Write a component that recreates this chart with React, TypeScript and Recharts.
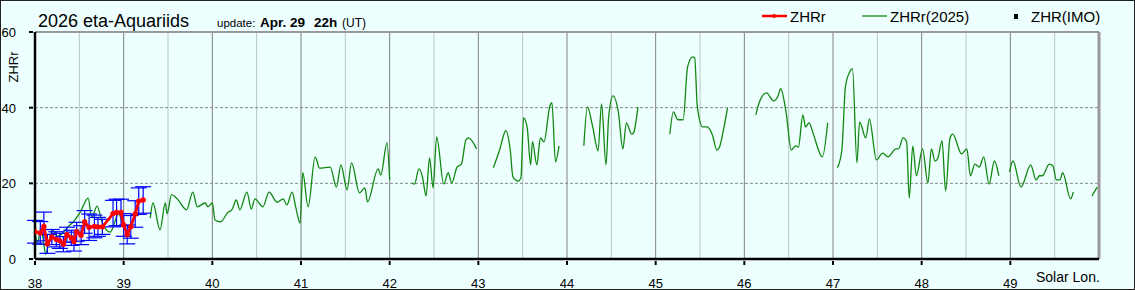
import React from 'react';
import { ComposedChart, Line, XAxis, YAxis, ReferenceLine, ErrorBar } from 'recharts';

const BG = '#eeffff';
const FONT = '"Liberation Sans", Arial, sans-serif';

// ZHRr(2025), null = no data (gap)
const greenLon = [
  38.0, 38.03, 38.06, 38.09, 38.12, 38.16, 38.2, 38.25, 38.32, 38.37, 38.42, 38.51, 38.6, 38.64, 38.7, 38.76, 38.85, 38.9, 38.94, 38.99, 39.15,
  39.3, 39.33, 39.41, 39.47, 39.49, 39.54, 39.6, 39.71, 39.78, 39.83, 39.92, 39.95, 40.0, 40.03, 40.09, 40.18, 40.22, 40.27, 40.31, 40.39,
  40.44, 40.48, 40.57, 40.64, 40.73, 40.8, 40.84, 40.9, 40.94, 40.99, 41.02, 41.08, 41.16, 41.21, 41.33, 41.4, 41.45, 41.52, 41.57, 41.66,
  41.72, 41.75, 41.87, 41.9, 41.97, 42.0, 42.12,
  42.25, 42.28, 42.33, 42.37, 42.41, 42.45, 42.49, 42.53, 42.61, 42.66, 42.7, 42.76, 42.81, 42.86, 42.89, 42.98, 43.08,
  43.17, 43.24, 43.31, 43.36, 43.39, 43.45, 43.48, 43.51, 43.55, 43.59, 43.61, 43.66, 43.7, 43.74, 43.81, 43.83, 43.87, 43.91, 44.05,
  44.19, 44.23, 44.29, 44.35, 44.39, 44.44, 44.47, 44.52, 44.58, 44.63, 44.67, 44.73, 44.75, 44.8, 45.0,
  45.16, 45.2, 45.25, 45.31, 45.36, 45.42, 45.44, 45.47, 45.53, 45.58, 45.64, 45.69, 45.72, 45.76, 45.81, 45.97,
  46.13, 46.17, 46.25, 46.33, 46.38, 46.41, 46.47, 46.53, 46.58, 46.61, 46.66, 46.69, 46.73, 46.77, 46.88, 46.94, 47.0,
  47.05, 47.1, 47.14, 47.19, 47.22, 47.27, 47.3, 47.37, 47.41, 47.49, 47.56, 47.62, 47.71, 47.74, 47.79, 47.83, 47.86, 47.9, 47.94,
  48.01, 48.07, 48.11, 48.15, 48.18, 48.23, 48.27, 48.32, 48.35, 48.45, 48.51, 48.55, 48.6, 48.65, 48.7, 48.76, 48.82, 48.87, 48.93,
  48.99, 49.03, 49.12, 49.23, 49.29, 49.33, 49.36, 49.44, 49.48, 49.52, 49.56, 49.59, 49.68, 49.71, 49.8,
  49.92, 49.98,
];
const greenZhr = [
  7.1, 4.2, 7.7, 5.6, 1.2, 5, 7.7, 6, 7, 8.5, 9.5, 12.4, 16.1, 11, 14, 9.5, 7.1, 9.8, 12, 9, null,
  10.8, 14.8, 7.7, 14.8, 12, 17, 16, 13, 17.7, 13.8, 14.8, 13.8, 14.8, 10.3, 9.8, 12.4, 13, 15.6, 13, 17.7,
  13.2, 15.9, 13.8, 17.7, 15, 15.9, 14.3, 17.7, 13.8, 9.5, 22.8, 13.8, 27, 24, 24.3, 19, 24.9, 18.3, 25.4, 17.5,
  18.8, 15.1, 23.8, 22.2, 30.7, 20.9, null,
  20.1, 19.8, 23.8, 21.7, 16.7, 26.7, 18.8, 32.3, 19.8, 22.8, 20.1, 24.3, 25.1, 31.5, 32, 29.1, null,
  24.1, 28.8, 33.9, 28.8, 21.7, 20.6, 21.4, 37.3, 34.9, 24.9, 31, 24.9, 32, 31, 40.7, 41.3, 25.7, 29.9, null,
  29.9, 40.2, 34.9, 28.6, 41, 24.9, 37.6, 43.1, 38.6, 29.1, 36, 33, 33.3, 40.2, null,
  33, 38.9, 36.8, 36.8, 50.8, 53.4, 53.2, 40.2, 34.9, 34.9, 32.8, 28.8, 29.6, 33.6, 39.9, null,
  38.1, 41.5, 43.9, 41.8, 43.1, 45, 38.9, 28.8, 29.9, 29.6, 38.1, 34.9, 36, 33.6, 27, 36, null,
  24.1, 28.8, 45.5, 49.5, 50.3, 25.4, 36.2, 32, 37, 26.2, 28, 27, 29.1, 29.1, 32, 31, 16.1, 29.9, 22,
  29.1, 20.1, 29.1, 25.9, 26.5, 31.2, 18, 32, 33, 27.8, 29.1, 22, 25.1, 24.3, 27, 19.8, 25.9, 22, null,
  23, 25.9, 19, 24.9, 20.9, 22, 22, 25.1, 24.6, 20.9, 20.9, 22.8, 15.9, 17.7, null,
  16.7, 19,
];

// ZHRr (2026) with error
const redLon = [
  38.0, 38.06, 38.1, 38.14, 38.19, 38.24, 38.28, 38.32, 38.36, 38.41, 38.44, 38.47, 38.52, 38.56,
  38.61, 38.67, 38.71, 38.76, 38.88, 38.92, 38.97, 39.0, 39.04, 39.08, 39.13, 39.17, 39.22,
];
const redZhr = [
  7.2, 6.9, 8.6, 4.0, 5.8, 5.2, 4.8, 3.9, 6.4, 5.6, 4.6, 7.2, 6.3, 9.8,
  8.4, 8.6, 8.5, 8.5, 12.0, 12.3, 12.3, 9.0, 6.5, 8.5, 11.9, 15.3, 15.6,
];
const redErr = [
  3, 3, 3.8, 2.5, 2, 2, 2, 2, 2, 2, 2.5, 2.5, 2.5, 3,
  3.5, 3, 2.5, 2, 3.5, 3.5, 3.5, 3, 2.5, 3, 3.5, 3.5, 3.5,
];

const xTicks = [38, 39, 40, 41, 42, 43, 44, 45, 46, 47, 48, 49];
const yTicks = [0, 20, 40, 60];
const majorGrid = [39, 40, 41, 42, 43, 44, 45, 46, 47, 48, 49];
const minorGrid = [38.5, 39.5, 40.5, 41.5, 42.5, 43.5, 44.5, 45.5, 46.5, 47.5, 48.5, 49.5];

const greenData = greenLon.map((lon, i) => ({ lon, v: greenZhr[i] }));
const redData = redLon.map((lon, i) => ({ lon, v: redZhr[i], err: redErr[i] }));

const XTick = (props: any) => {
  const { x, y, payload } = props;
  return (
    <g>
      <line x1={x} x2={x} y1={y} y2={y - 4} stroke="#000" strokeWidth={2} />
      <text x={x} y={y + 23} textAnchor="middle" fontSize={13} fontFamily={FONT} fill="#000">
        {payload.value}
      </text>
    </g>
  );
};

const YTick = (props: any) => {
  const { x, y, payload } = props;
  return (
    <g>
      <line x1={x} x2={x + 4} y1={y} y2={y} stroke="#000" strokeWidth={2} />
      <text x={x - 13} y={y + 5} textAnchor="end" fontSize={13} fontFamily={FONT} fill="#000">
        {payload.value}
      </text>
    </g>
  );
};

const App: React.FC = () => {
  return (
    <div style={{ position: 'absolute', left: 0, top: 0, width: 1135, height: 290, background: BG }}>
      <ComposedChart
        width={1135}
        height={290}
        margin={{ top: 32, right: 36, bottom: 0, left: 0 }}
      >
        <XAxis
          type="number"
          dataKey="lon"
          domain={[38, 50]}
          ticks={xTicks}
          allowDataOverflow
          height={31}
          tickLine={false}
          tickMargin={0}
          tick={<XTick />}
          axisLine={{ stroke: '#000', strokeWidth: 2.5 }}
        />
        <YAxis
          type="number"
          domain={[0, 60]}
          ticks={yTicks}
          width={35}
          tickLine={false}
          tickMargin={0}
          tick={<YTick />}
          axisLine={{ stroke: '#000', strokeWidth: 2.5 }}
        />
        {minorGrid.map((x) => (
          <ReferenceLine key={`mi-${x}`} x={x} stroke="#b8c4c4" strokeWidth={1} />
        ))}
        {majorGrid.map((x) => (
          <ReferenceLine key={`ma-${x}`} x={x} stroke="#808080" strokeWidth={1} />
        ))}
        <ReferenceLine y={20} stroke="#888" strokeDasharray="3 2" />
        <ReferenceLine y={40} stroke="#888" strokeDasharray="3 2" />
        <ReferenceLine y={60} stroke="#999" strokeWidth={2} />
        <ReferenceLine x={50} stroke="#999" strokeWidth={3} />
        <Line
          data={greenData}
          dataKey="v"
          type="monotone"
          stroke="#118811"
          strokeWidth={1.3}
          dot={false}
          connectNulls={false}
          isAnimationActive={false}
        />
        <Line
          data={redData}
          dataKey="v"
          stroke="none"
          dot={false}
          isAnimationActive={false}
        >
          <ErrorBar dataKey="err" direction="y" width={8} stroke="#0000ff" strokeWidth={1.2} />
        </Line>
        <Line
          data={redData}
          dataKey="v"
          type="linear"
          stroke="#ff0000"
          strokeWidth={2.8}
          dot={{ r: 2.7, fill: '#ff0000', stroke: 'none' }}
          isAnimationActive={false}
        />
      </ComposedChart>
      <svg
        width={1135}
        height={290}
        style={{ position: 'absolute', left: 0, top: 0, pointerEvents: 'none' }}
        fontFamily={FONT}
      >
        <text x={38} y={27} fontSize={18} fill="#000">2026 eta-Aquariids</text>
        <text x={217} y={27} fontSize={11.5} fill="#000">update:</text>
        <text x={260} y={27} fontSize={13.5} fontWeight="bold" fill="#000">Apr. 29</text>
        <text x={314} y={27} fontSize={13.5} fontWeight="bold" fill="#000">22h</text>
        <text x={342} y={27} fontSize={12} fill="#000">(UT)</text>
        <line x1={762} x2={787} y1={16} y2={16} stroke="#ff0000" strokeWidth={2.5} />
        <circle cx={774} cy={16} r={2} fill="#ff0000" />
        <text x={790} y={22} fontSize={15} fill="#000">ZHRr</text>
        <line x1={862} x2={887} y1={16} y2={16} stroke="#118811" strokeWidth={1.3} />
        <text x={890} y={22} fontSize={15} fill="#000">ZHRr(2025)</text>
        <rect x={1014} y={14} width={4} height={5} fill="#000" />
        <text x={1031} y={22} fontSize={15} fill="#000">ZHR(IMO)</text>
        <text transform="translate(18,67) rotate(-90)" textAnchor="middle" fontSize={13} fill="#000">ZHRr</text>
        <text x={1036} y={282} fontSize={14} fill="#000">Solar Lon.</text>
        <rect x={0.5} y={0.5} width={1134} height={289} fill="none" stroke="#222" strokeWidth={1} />
      </svg>
    </div>
  );
};

export default App;
